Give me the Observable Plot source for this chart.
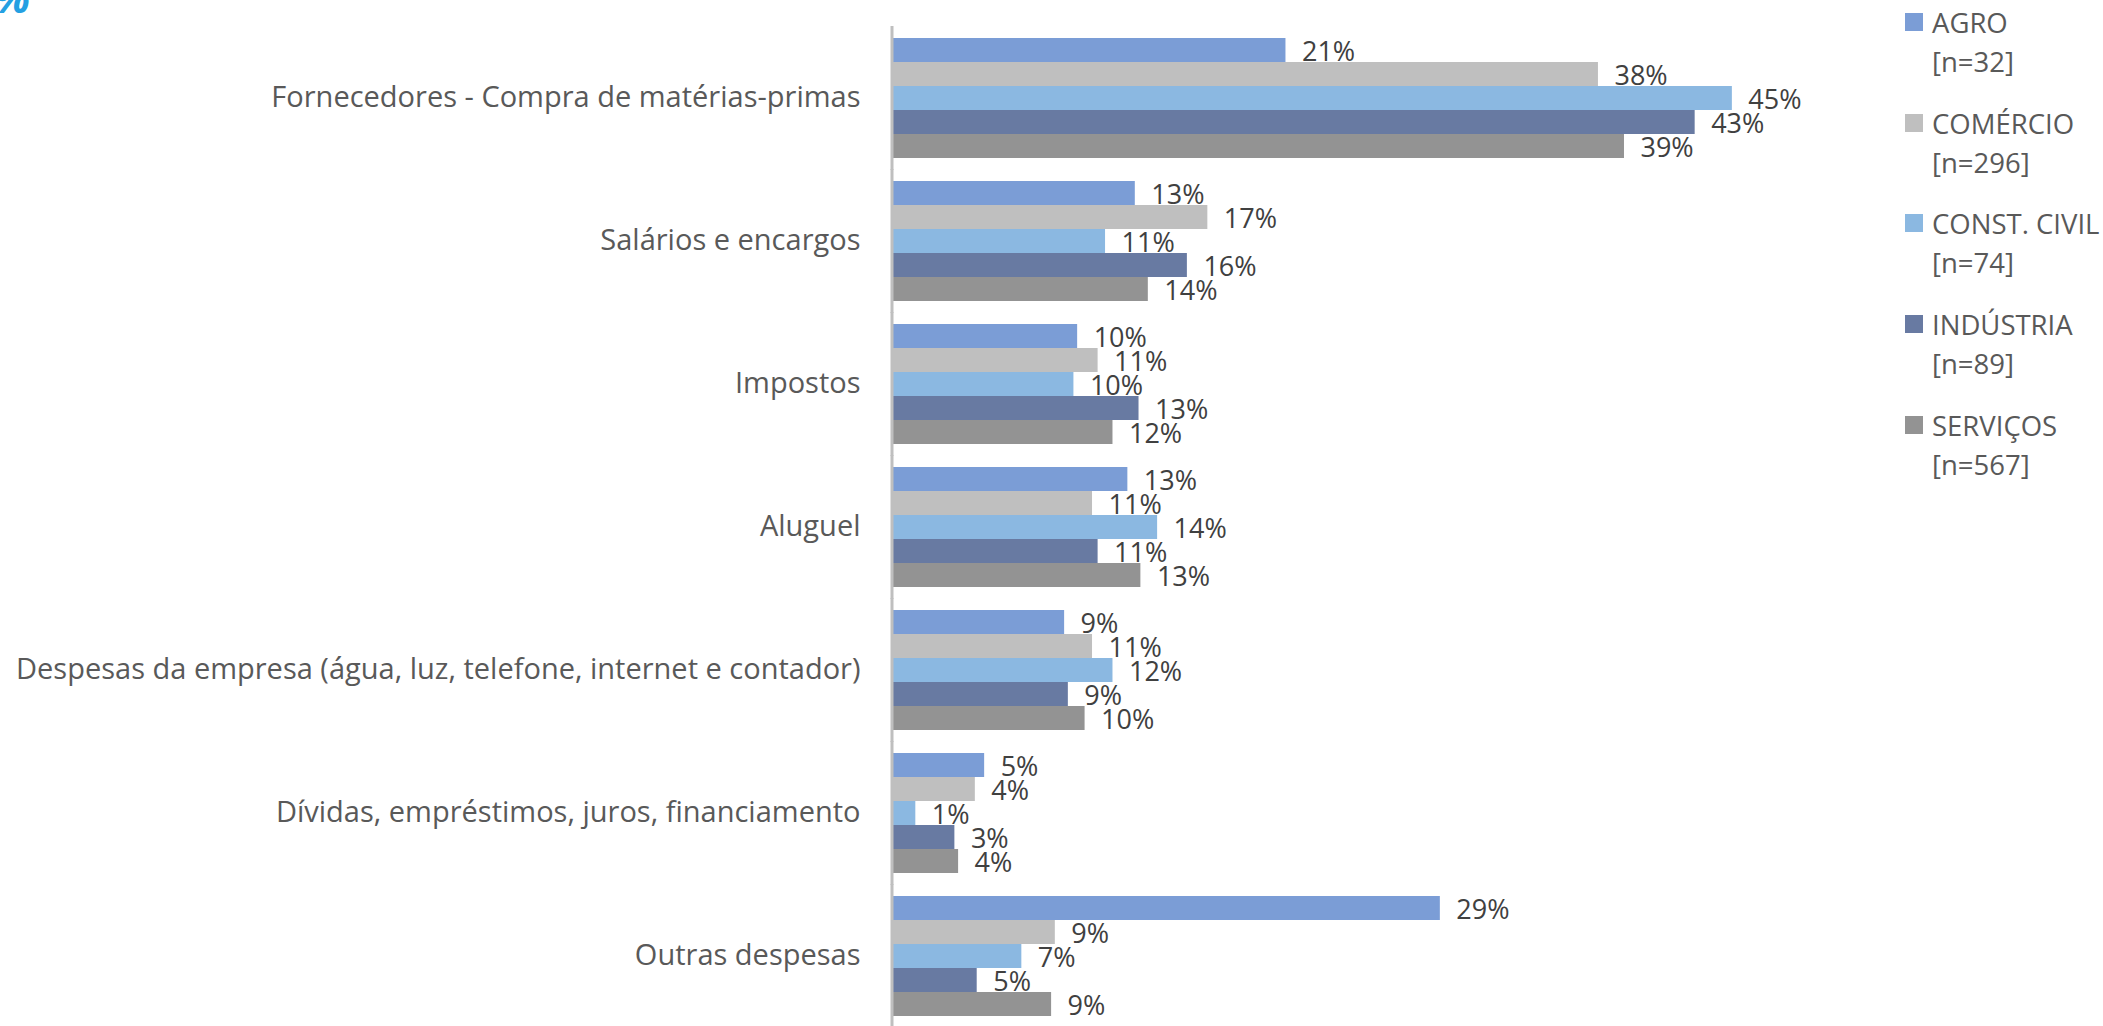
<!DOCTYPE html>
<html>
<head>
<meta charset="utf-8">
<script src="https://cdn.jsdelivr.net/npm/d3@7"></script>
<script src="https://cdn.jsdelivr.net/npm/@observablehq/plot@0.6"></script>
<style>
  html, body { margin: 0; padding: 0; background: #ffffff; overflow: hidden; }
  #wrap { position: relative; width: 2103px; height: 1026px; }
  #chart { position: absolute; left: 0; top: 0; }
  #legend { position: absolute; left: 1905px; top: 0; font-family: "Open Sans", sans-serif; font-size: 27.5px; color: #595959; }
  .entry { position: absolute; left: 0; width: 200px; }
  .sw { position: absolute; left: 0; top: 13px; width: 18px; height: 18px; }
  .lab { position: absolute; left: 27px; top: 3px; line-height: 39px; white-space: nowrap; }
  #frag { position: absolute; z-index: 5; left: -6px; top: -32px; font-family: "Open Sans", sans-serif; font-weight: 700; font-style: italic; font-size: 42px; color: #24a0e2; }
</style>
</head>
<body>
<div id="wrap">
  <div id="chart"></div>
  <div id="legend"></div>
  <div id="frag">%</div>
</div>
<script>
const categories = [
  "Fornecedores - Compra de matérias-primas",
  "Salários e encargos",
  "Impostos",
  "Aluguel",
  "Despesas da empresa (água, luz, telefone, internet e contador)",
  "Dívidas, empréstimos, juros, financiamento",
  "Outras despesas"
];
const sectors = ["AGRO", "COMÉRCIO", "CONST. CIVIL", "INDÚSTRIA", "SERVIÇOS"];
const sampleSizes = ["[n=32]", "[n=296]", "[n=74]", "[n=89]", "[n=567]"];

const agro       = [21.1, 13.0,  9.9, 12.6,  9.2, 4.9, 29.4];
const comercio   = [37.9, 16.9, 11.0, 10.7, 10.7, 4.4,  8.7];
const constCivil = [45.1, 11.4,  9.7, 14.2, 11.8, 1.2,  6.9];
const industria  = [43.1, 15.8, 13.2, 11.0,  9.4, 3.3,  4.5];
const servicos   = [39.3, 13.7, 11.8, 13.3, 10.3, 3.5,  8.5];

const colors = ["#7b9dd6", "#bfbfbf", "#8bb8e1", "#687aa2", "#939393"];

const seriesValues = [agro, comercio, constCivil, industria, servicos];
const data = categories.flatMap((c, i) =>
  sectors.map((s, j) => ({category: c, sector: s, value: seriesValues[j][i]}))
);

const chart = Plot.plot({
  width: 2103,
  height: 1026,
  marginLeft: 893,
  marginRight: 94,
  marginTop: 34,
  marginBottom: 6,
  style: {fontFamily: "'Open Sans', sans-serif", fontSize: "29px", color: "#595959", background: "#ffffff"},
  x: {domain: [0, 60], axis: null},
  y: {domain: sectors, axis: null, padding: 0},
  fy: {domain: categories, paddingInner: 0.137, paddingOuter: 0, axis: "left", tickSize: 0, tickPadding: 33, label: null},
  color: {domain: sectors, range: colors},
  marks: [
    Plot.barX(data, {x: "value", y: "sector", fy: "category", fill: "sector"}),
    Plot.ruleX([0], {stroke: "#bfbfbf", strokeWidth: 3, dx: -1.5, insetTop: -10, insetBottom: -11}),
    Plot.text(data, {
      x: "value", y: "sector", fy: "category",
      text: d => Math.round(d.value) + "%",
      textAnchor: "start", dx: 16, dy: 2,
      fill: "#404040", fontSize: 27
    })
  ]
});
document.getElementById("chart").appendChild(chart);

const legend = document.getElementById("legend");
sectors.forEach((s, i) => {
  const e = document.createElement("div");
  e.className = "entry";
  e.style.top = (i * 100.7) + "px";
  const sw = document.createElement("div");
  sw.className = "sw";
  sw.style.background = colors[i];
  const lab = document.createElement("div");
  lab.className = "lab";
  lab.innerHTML = s + "<br>" + sampleSizes[i];
  e.appendChild(sw);
  e.appendChild(lab);
  legend.appendChild(e);
});
</script>
</body>
</html>
